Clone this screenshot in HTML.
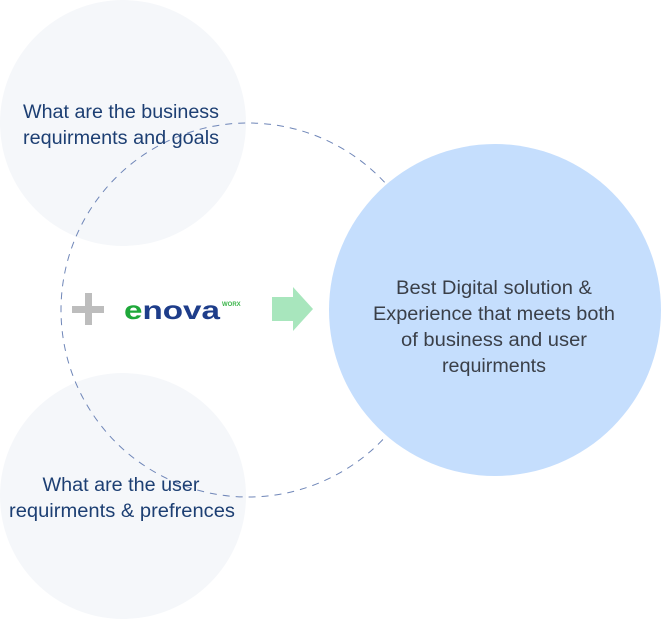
<!DOCTYPE html>
<html><head><style>
body{margin:0;width:661px;height:619px;overflow:hidden;background:#fff}
</style></head><body>
<svg width="661" height="619" viewBox="0 0 661 619" xmlns="http://www.w3.org/2000/svg" font-family="Liberation Sans, sans-serif">
<circle cx="123" cy="123" r="123" fill="#f5f7fa"/>
<circle cx="123" cy="496" r="123" fill="#f5f7fa"/>
<circle cx="248" cy="310" r="187" fill="none" stroke="#6f86b8" stroke-width="1" stroke-dasharray="7 6"/>
<circle cx="495" cy="310" r="166" fill="#c5defd"/>
<g fill="#1d3f73" font-size="19" text-anchor="middle" lengthAdjust="spacingAndGlyphs">
<text x="121" y="118" textLength="196" lengthAdjust="spacingAndGlyphs">What are the business</text>
<text x="121" y="144" textLength="196" lengthAdjust="spacingAndGlyphs">requirments and goals</text>
<text x="121" y="491" textLength="157" lengthAdjust="spacingAndGlyphs">What are the user</text>
<text x="122" y="517" textLength="226" lengthAdjust="spacingAndGlyphs">requirments &amp; prefrences</text>
</g>
<g fill="#3a3f48" font-size="19" text-anchor="middle">
<text x="494" y="294" textLength="196" lengthAdjust="spacingAndGlyphs">Best Digital solution &amp;</text>
<text x="494" y="320" textLength="242" lengthAdjust="spacingAndGlyphs">Experience that meets both</text>
<text x="494" y="346" textLength="186" lengthAdjust="spacingAndGlyphs">of business and user</text>
<text x="494" y="372" textLength="104" lengthAdjust="spacingAndGlyphs">requirments</text>
</g>
<rect x="72" y="306" width="32" height="7" fill="#bdbdbd"/>
<rect x="85" y="293" width="7" height="32" fill="#bdbdbd"/>
<text x="124" y="319" font-size="26" font-weight="bold" fill="#1e3d8a" textLength="96" lengthAdjust="spacingAndGlyphs"><tspan fill="#1fa83a">e</tspan>nova</text>
<text x="222" y="306" font-size="6" font-weight="bold" fill="#3bb54a">WORX</text>
<polygon points="272,297 293,297 293,287 313,309 293,331 293,321 272,321" fill="#a8e6bd"/>
</svg>
</body></html>
